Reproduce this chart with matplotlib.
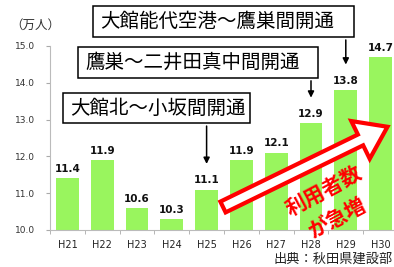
import matplotlib
matplotlib.use("Agg")
import matplotlib.pyplot as plt
from matplotlib.patches import Polygon, Rectangle
from matplotlib.transforms import Affine2D

plt.rcParams['font.family'] = ['Noto Sans CJK JP', 'DejaVu Sans']

years = ["H21", "H22", "H23", "H24", "H25", "H26", "H27", "H28", "H29", "H30"]
users = [11.4, 11.9, 10.6, 10.3, 11.1, 11.9, 12.1, 12.9, 13.8, 14.7]
yticks = [10.0, 11.0, 12.0, 13.0, 14.0, 15.0]

W, H = 394, 267
fig = plt.figure(figsize=(W / 100, H / 100), dpi=100)
ax = fig.add_axes([50 / W, 37 / H, 348 / W, 184 / H])

# pixel coords (top-left origin) -> figure transform
pix = Affine2D().scale(1 / W, -1 / H).translate(0, 1) + fig.transFigure

x = range(len(years))
ax.bar(x, users, width=0.66, color='#99F55E', bottom=0, zorder=2)
for i, v in zip(x, users):
    ax.text(i, v + 0.12, f"{v:.1f}", ha='center', va='bottom', fontsize=7.5,
            fontweight='bold', family='DejaVu Sans', color='#111111', zorder=5)

ax.set_xlim(-0.5, 9.5)
ax.set_ylim(10, 15)
ax.set_yticks(yticks)
ax.set_yticklabels([f"{t:.1f}" for t in yticks], fontsize=6.5, family='DejaVu Sans', color='#333333')
ax.set_xticks(list(x))
ax.set_xticklabels(years, fontsize=7, family='DejaVu Sans', color='#222222')
ax.set_xticks([i + 0.5 for i in range(-1, len(years))], minor=True)
ax.tick_params(axis='x', which='major', length=0, pad=7)
ax.tick_params(axis='x', which='minor', length=3, color='#AAAAAA')
ax.tick_params(axis='y', length=3, color='#AAAAAA', pad=8)
for s in ['top', 'right']:
    ax.spines[s].set_visible(False)
for s in ['left', 'bottom']:
    ax.spines[s].set_color('#BBBBBB')

fig.text(10 / W, 1 - 25 / H, "（万人）", fontsize=9, color='#333333', va='center', ha='left')

# event boxes (x0, y0, x1, y1 in pixels) and their labels
boxes = [
    ((93, 6, 354, 37), "大館能代空港～鷹巣間開通"),
    ((78, 47, 318, 78), "鷹巣～二井田真中間開通"),
    ((63, 93, 250, 123), "大館北～小坂間開通"),
]
for (x0, y0, x1, y1), label in boxes:
    fig.add_artist(Rectangle((x0, y0), x1 - x0, y1 - y0, transform=pix,
                             facecolor='white', edgecolor='black', lw=1.1, zorder=6))
    fig.text(x0 + 7, (y0 + y1) / 2, label, transform=pix, ha='left', va='center',
             fontsize=14, color='black', zorder=7)

# arrows from boxes down to the bars
for idx, ystart in [(4, 12.9), (7, 14.13), (8, 15.24)]:
    ax.annotate('', xy=(idx, users[idx] + 0.62), xytext=(idx, ystart),
                arrowprops=dict(arrowstyle='-|>', color='black', lw=1.1, mutation_scale=9),
                annotation_clip=False, zorder=6)

# big hollow red arrow
L, w, hw, hl = 183, 6, 21, 30
pts = [(0, -w), (L - hl, -w), (L - hl, -hw), (L, 0), (L - hl, hw), (L - hl, w), (0, w)]
arr_tr = Affine2D().rotate_deg(26).translate(223, H - 207) + Affine2D().scale(1 / W, 1 / H) + fig.transFigure
fig.add_artist(Polygon(pts, closed=True, transform=arr_tr, facecolor='white',
                       edgecolor='#FF0000', lw=3, joinstyle='miter', zorder=4))
fig.text(324 / W, 1 - 192 / H, "利用者数", rotation=28, ha='center', va='center',
         fontsize=15, fontweight='bold', color='#FF0000', zorder=5, rotation_mode='anchor')
fig.text(338 / W, 1 - 218 / H, "が急増", rotation=28, ha='center', va='center',
         fontsize=15, fontweight='bold', color='#FF0000', zorder=5, rotation_mode='anchor')

fig.text(393 / W, 1 - 259 / H, "出典：秋田県建設部", ha='right', va='center', fontsize=9.5, color='#222222')

fig.savefig("out.png", dpi=100)
